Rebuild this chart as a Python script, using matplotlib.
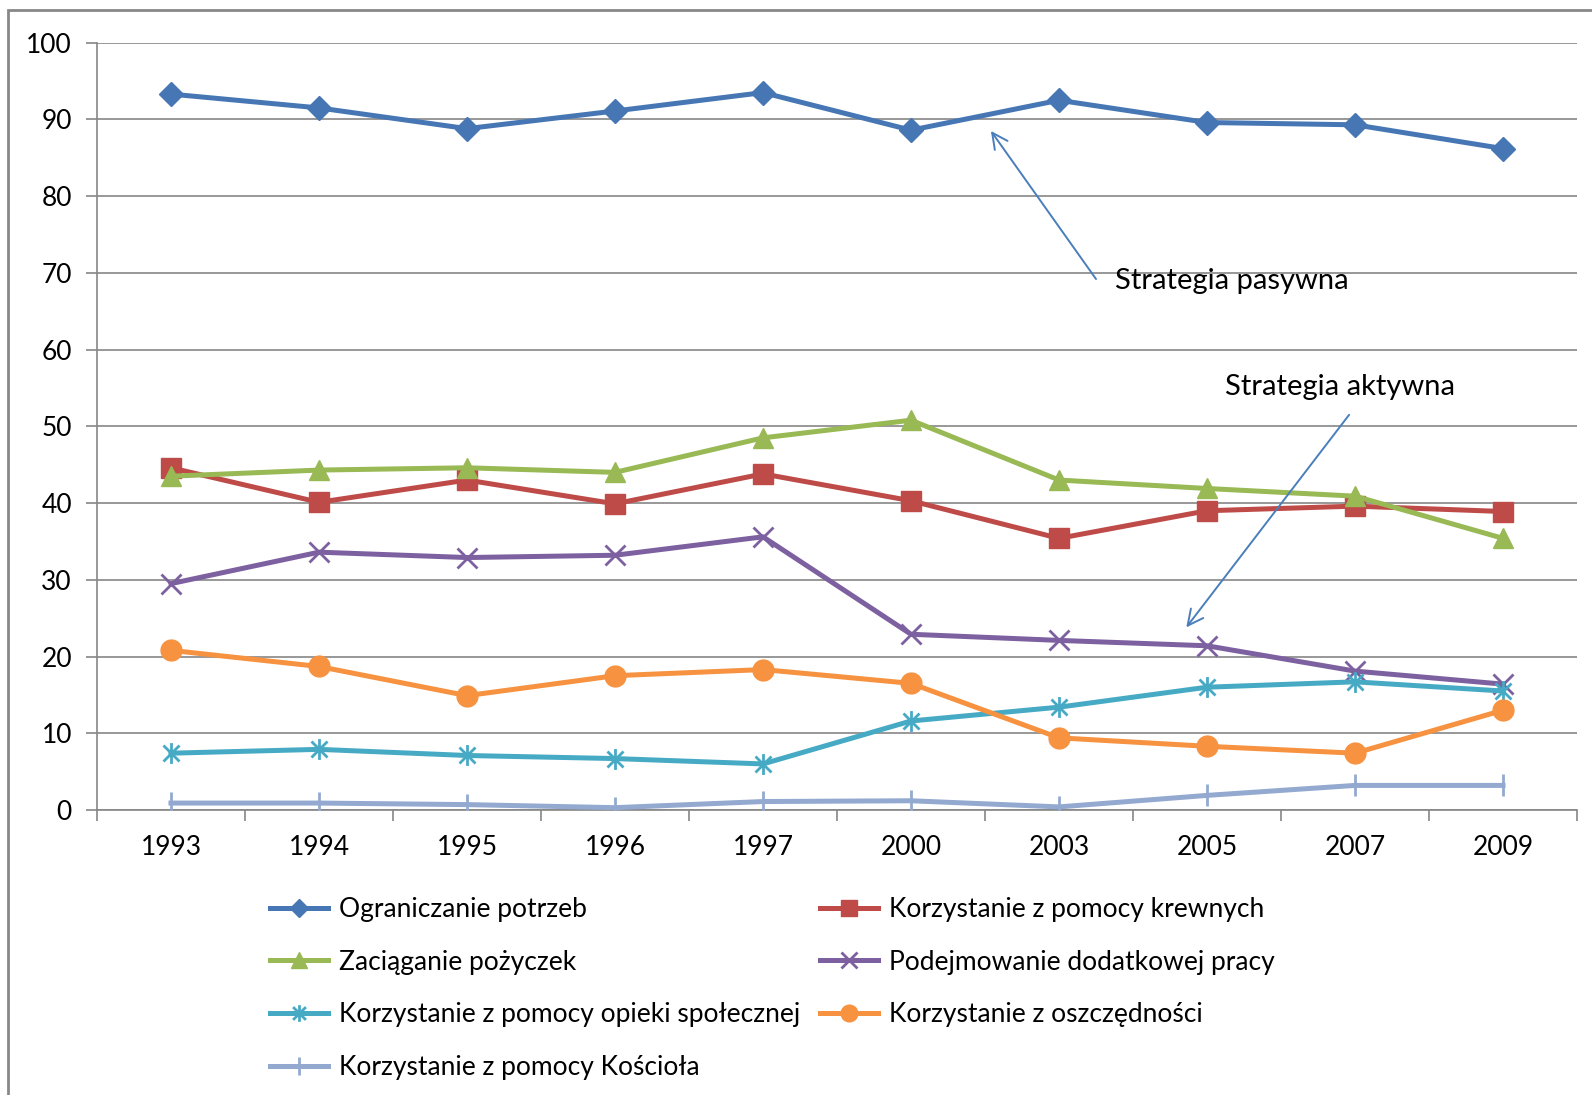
import matplotlib
matplotlib.use('Agg')
import matplotlib.pyplot as plt
from matplotlib.patches import Rectangle
from matplotlib.path import Path
import numpy as np

plt.rcParams['font.family'] = ['Lato', 'DejaVu Sans']

# dane (%)
years = ['1993', '1994', '1995', '1996', '1997', '2000', '2003', '2005', '2007', '2009']

ograniczanie = [93.3, 91.5, 88.8, 91.1, 93.5, 88.6, 92.5, 89.6, 89.3, 86.2]
krewni = [44.6, 40.1, 43.0, 39.9, 43.8, 40.3, 35.4, 39.0, 39.6, 38.9]
pozyczki = [43.5, 44.3, 44.6, 44.0, 48.5, 50.8, 43.0, 41.9, 40.9, 35.4]
dodatkowa_praca = [29.5, 33.6, 32.9, 33.2, 35.6, 22.9, 22.1, 21.4, 18.1, 16.4]
opieka_spoleczna = [7.4, 7.9, 7.1, 6.7, 6.0, 11.6, 13.4, 16.0, 16.7, 15.5]
oszczednosci = [20.8, 18.7, 14.9, 17.5, 18.3, 16.5, 9.4, 8.3, 7.4, 13.0]
kosciol = [0.9, 0.9, 0.7, 0.3, 1.1, 1.2, 0.4, 1.9, 3.2, 3.2]

# gwiazdka jak w Excelu: X + pionowa kreska
star = Path([(-1, -1), (1, 1), (-1, 1), (1, -1), (0, -1.3), (0, 1.3)],
            [Path.MOVETO, Path.LINETO, Path.MOVETO, Path.LINETO, Path.MOVETO, Path.LINETO])

series = [
    ('Ograniczanie potrzeb', ograniczanie, '#4677B4', 'D', 12),
    ('Korzystanie z pomocy krewnych', krewni, '#BE4B48', 's', 14),
    ('Zaciąganie pożyczek', pozyczki, '#98B954', '^', 15),
    ('Podejmowanie dodatkowej pracy', dodatkowa_praca, '#7D60A0', 'x', 14),
    ('Korzystanie z pomocy opieki społecznej', opieka_spoleczna, '#46AAC5', star, 15),
    ('Korzystanie z oszczędności', oszczednosci, '#F69240', 'o', 15),
    ('Korzystanie z pomocy Kościoła', kosciol, '#93A9CF', '|', 16),
]

grid_col = '#868686'
x = np.arange(len(years))

fig = plt.figure(figsize=(15.92, 10.95), dpi=100)
ax = fig.add_axes([0.0609, 0.2603, 0.9297, 0.7007])

handles = []
for name, vals, col, mk, ms in series:
    if isinstance(mk, Path) or mk in ('x', '|'):
        ln, = ax.plot(x, vals, color=col, lw=3.6, marker=mk, ms=ms,
                      mec=col, mew=2, label=name, zorder=3)
    else:
        ln, = ax.plot(x, vals, color=col, lw=3.6, marker=mk, ms=ms,
                      mec=col, mfc=col, label=name, zorder=3)
    handles.append(ln)

ax.set_xlim(-0.5, len(years) - 0.5)
ax.set_ylim(0, 100)
ax.set_yticks(np.arange(0, 101, 10))
ax.yaxis.grid(True, color=grid_col, lw=1.2)
ax.set_axisbelow(True)

ax.set_xticks(x)
ax.set_xticklabels(years)
ax.set_xticks(np.arange(-0.5, len(years), 1), minor=True)
ax.tick_params(axis='x', which='major', length=0, pad=18, labelsize=19)
ax.tick_params(axis='x', which='minor', length=8, width=1.2, color=grid_col, direction='out')
ax.tick_params(axis='y', length=8, width=1.2, color=grid_col, pad=10, labelsize=19)

for s in ['top', 'right']:
    ax.spines[s].set_visible(False)
for s in ['left', 'bottom']:
    ax.spines[s].set_color(grid_col)
    ax.spines[s].set_linewidth(1.2)

# adnotacje
arrow_col = '#4A7EBB'
ax.annotate('', xy=(5.54, 88.5), xytext=(6.25, 69.2),
            arrowprops=dict(arrowstyle='->', color=arrow_col, lw=1.4,
                            mutation_scale=28, shrinkA=0, shrinkB=0))
ax.text(6.38, 68.9, 'Strategia pasywna', fontsize=21, ha='left', va='center')
ax.annotate('', xy=(6.86, 23.8), xytext=(7.96, 51.5),
            arrowprops=dict(arrowstyle='->', color=arrow_col, lw=1.4,
                            mutation_scale=28, shrinkA=0, shrinkB=0))
ax.text(7.12, 55.1, 'Strategia aktywna', fontsize=21, ha='left', va='center')

# legenda wypełniana wierszami: kolumna 1 = pozycje 0,2,4,6, kolumna 2 = 1,3,5
order = [0, 2, 4, 6, 1, 3, 5]
leg = fig.legend(handles=[handles[i] for i in order], loc='upper left',
                 bbox_to_anchor=(0.1696, 0.181),
                 ncol=2, frameon=False, fontsize=19, handlelength=2.2,
                 handletextpad=0.42, columnspacing=0.75, labelspacing=1.05,
                 borderpad=0, borderaxespad=0, markerscale=0.8)

# ramka obszaru wykresu
fig.add_artist(Rectangle((8 / 1592, -0.1), 1.2, 1.1 - 10 / 1095,
                         transform=fig.transFigure, fill=False,
                         ec='#888888', lw=2, clip_on=False))

fig.savefig('out.png', dpi=100)
